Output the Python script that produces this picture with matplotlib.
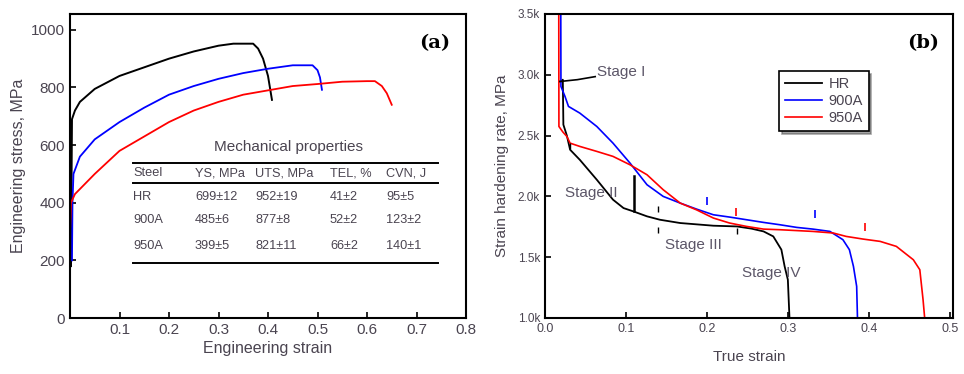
import matplotlib
matplotlib.use('Agg')
import matplotlib.pyplot as plt
from matplotlib.ticker import FuncFormatter

plt.rcParams['font.family'] = ['Liberation Sans', 'DejaVu Sans']

TXT = '#4a4450'

# (a) engineering stress-strain curves
hr_strain = [0.002, 0.003, 0.004, 0.006, 0.01, 0.02, 0.05, 0.1, 0.15, 0.2, 0.25, 0.3, 0.33, 0.37,
             0.38, 0.39, 0.40, 0.408]
hr_stress = [180, 450, 690, 700, 720, 750, 795, 840, 870, 900, 925, 945, 952, 952,
             935, 900, 840, 757]
a900_strain = [0.004, 0.005, 0.007, 0.02, 0.05, 0.1, 0.15, 0.2, 0.25, 0.3, 0.35, 0.4, 0.45, 0.49,
               0.5, 0.505, 0.509]
a900_stress = [200, 400, 500, 560, 620, 680, 730, 775, 805, 830, 850, 865, 877, 877,
               860, 835, 792]
a950_strain = [0.0, 0.0, 0.002, 0.01, 0.05, 0.1, 0.15, 0.2, 0.25, 0.3, 0.35, 0.4, 0.45, 0.5,
               0.55, 0.6, 0.616, 0.63, 0.64, 0.65]
a950_stress = [0, 300, 400, 430, 500, 580, 630, 680, 720, 750, 775, 790, 805, 812,
               820, 822, 822, 805, 780, 740]

table_cols = ['Steel', 'YS, MPa', 'UTS, MPa', 'TEL, %', 'CVN, J']
table_rows = [['HR', '699±12', '952±19', '41±2', '95±5'],
              ['900A', '485±6', '877±8', '52±2', '123±2'],
              ['950A', '399±5', '821±11', '66±2', '140±1']]

# (b) strain hardening rate curves
hr_true = [0.0185, 0.020, 0.022, 0.0225, 0.0227, 0.027, 0.031, 0.043, 0.064, 0.084, 0.097, 0.109,
           0.126, 0.142, 0.167, 0.208, 0.237, 0.255, 0.270, 0.282, 0.292, 0.296, 0.300, 0.302]
hr_rate = [2945, 2945, 2960, 2700, 2590, 2500, 2384, 2301, 2137, 1973, 1904, 1877,
           1836, 1808, 1781, 1759, 1753, 1735, 1712, 1671, 1562, 1425, 1315, 1000]
b900_true = [0.0195, 0.0197, 0.0247, 0.029, 0.043, 0.064, 0.084, 0.105, 0.126, 0.146, 0.167,
             0.187, 0.208, 0.228, 0.249, 0.270, 0.290, 0.311, 0.331, 0.352, 0.368, 0.376,
             0.381, 0.385, 0.386]
b900_rate = [3500, 2904, 2822, 2740, 2685, 2575, 2438, 2274, 2096, 2000, 1945,
             1896, 1849, 1830, 1808, 1786, 1767, 1745, 1731, 1712, 1644, 1562,
             1425, 1260, 1000]
b950_true = [0.017, 0.0172, 0.022, 0.027, 0.031, 0.043, 0.064, 0.084, 0.105, 0.126, 0.146,
             0.167, 0.187, 0.208, 0.228, 0.249, 0.270, 0.290, 0.331, 0.356, 0.372, 0.393,
             0.414, 0.434, 0.455, 0.463, 0.467, 0.469]
b950_rate = [3500, 2575, 2530, 2493, 2438, 2411, 2370, 2329, 2260, 2178, 2055,
             1945, 1890, 1822, 1781, 1753, 1731, 1726, 1712, 1699, 1671, 1649,
             1630, 1589, 1479, 1397, 1151, 1000]

# stray data ticks
hr_dot_x = [0.031, 0.14, 0.14, 0.237]
hr_dot_y = [2411, 1900, 1726, 1712]
b900_dot_x = [0.2, 0.333]
b900_dot_y = [1965, 1855]
b950_dot_x = [0.236, 0.395]
b950_dot_y = [1870, 1745]

stage_labels = ['Stage I', 'Stage II', 'Stage III', 'Stage IV']
stage_x = [0.064, 0.025, 0.148, 0.243]
stage_y = [3027, 2027, 1603, 1370]

fig = plt.figure(figsize=(9.64, 3.74), dpi=100)
ax1 = fig.add_axes([70 / 964, 56 / 374, 396 / 964, 304 / 374])
ax2 = fig.add_axes([545 / 964, 56 / 374, 408 / 964, 304 / 374])

# ---- panel (a)
ax1.plot(hr_strain, hr_stress, color='black', lw=1.4)
ax1.plot(a900_strain, a900_stress, color='blue', lw=1.3)
ax1.plot(a950_strain, a950_stress, color='red', lw=1.3)
ax1.set_xlim(0, 0.8)
ax1.set_ylim(0, 1055)
ax1.set_xticks([0.1, 0.2, 0.3, 0.4, 0.5, 0.6, 0.7, 0.8])
ax1.set_yticks([0, 200, 400, 600, 800, 1000])
ax1.set_xlabel('Engineering strain', fontsize=11.5, color=TXT, labelpad=3)
ax1.set_ylabel('Engineering stress, MPa', fontsize=11.5, color=TXT, labelpad=4)
ax1.text(0.96, 0.905, '(a)', transform=ax1.transAxes, fontsize=14, fontweight='bold',
         family='DejaVu Serif', ha='right', va='center')

# mechanical properties table
def ty(py):
    return (318 - py) / 304

def tx(px):
    return (px - 70) / 396

col_x = [133, 195, 255, 330, 386]
row_y = [197, 220, 246]
ax1.text(tx(289), ty(147), 'Mechanical properties', transform=ax1.transAxes,
         fontsize=11, color=TXT, ha='center', va='center')
for yy in [163, 183, 263]:
    ax1.plot([tx(133), tx(438)], [ty(yy), ty(yy)], transform=ax1.transAxes,
             color='black', lw=1.4, clip_on=False)
for cx, name in zip(col_x, table_cols):
    ax1.text(tx(cx), ty(173), name, transform=ax1.transAxes, fontsize=9.2,
             color=TXT, ha='left', va='center')
for ry, row in zip(row_y, table_rows):
    for cx, val in zip(col_x, row):
        ax1.text(tx(cx), ty(ry), val, transform=ax1.transAxes, fontsize=9.2,
                 color=TXT, ha='left', va='center')

# ---- panel (b)
ax2.plot(hr_true, hr_rate, color='black', lw=1.3, label='HR')
ax2.plot(b900_true, b900_rate, color='blue', lw=1.2, label='900A')
ax2.plot(b950_true, b950_rate, color='red', lw=1.2, label='950A')
ax2.plot(hr_dot_x, hr_dot_y, ls='none', marker='|', ms=4, color='black')
ax2.plot(b900_dot_x, b900_dot_y, ls='none', marker='|', ms=6, mew=1.2, color='blue')
ax2.plot(b950_dot_x, b950_dot_y, ls='none', marker='|', ms=6, mew=1.2, color='red')

# stage markers
ax2.plot([0.0185, 0.04, 0.062], [2945, 2960, 2985], color='black', lw=1.2)
ax2.plot([0.11, 0.11], [1877, 2170], color='black', lw=1.8)
for lab, sx, sy in zip(stage_labels, stage_x, stage_y):
    ax2.text(sx, sy, lab, fontsize=11, color='#5c5668', ha='left', va='center')

ax2.set_xlim(0, 0.504)
ax2.set_ylim(1000, 3500)
ax2.set_xticks([0.0, 0.1, 0.2, 0.3, 0.4, 0.5])
ax2.set_yticks([1000, 1500, 2000, 2500, 3000, 3500])
ax2.yaxis.set_major_formatter(FuncFormatter(lambda v, p: f'{v / 1000:.1f}k'))
ax2.set_xlabel('True strain', fontsize=11, color=TXT, labelpad=11)
ax2.set_ylabel('Strain hardening rate, MPa', fontsize=11, color=TXT, labelpad=6)
ax2.text(0.965, 0.905, '(b)', transform=ax2.transAxes, fontsize=14, fontweight='bold',
         family='DejaVu Serif', ha='right', va='center')

leg = ax2.legend(loc='upper left', bbox_to_anchor=(0.555, 0.835), fontsize=10.5,
                 frameon=True, fancybox=False, shadow=True, handlelength=2.6,
                 borderpad=0.4, labelspacing=0.2, handletextpad=0.4)
leg.get_frame().set_edgecolor('black')
leg.get_frame().set_linewidth(1.2)
for t in leg.get_texts():
    t.set_color(TXT)

for ax, fs in [(ax1, 11), (ax2, 8.5)]:
    ax.tick_params(direction='in', length=4, width=1.2, labelsize=fs, labelcolor=TXT,
                   top=False, right=False)
    for s in ax.spines.values():
        s.set_linewidth(1.5)
ax2.tick_params(axis='x', labelsize=9)

fig.savefig('out.png', dpi=100)
